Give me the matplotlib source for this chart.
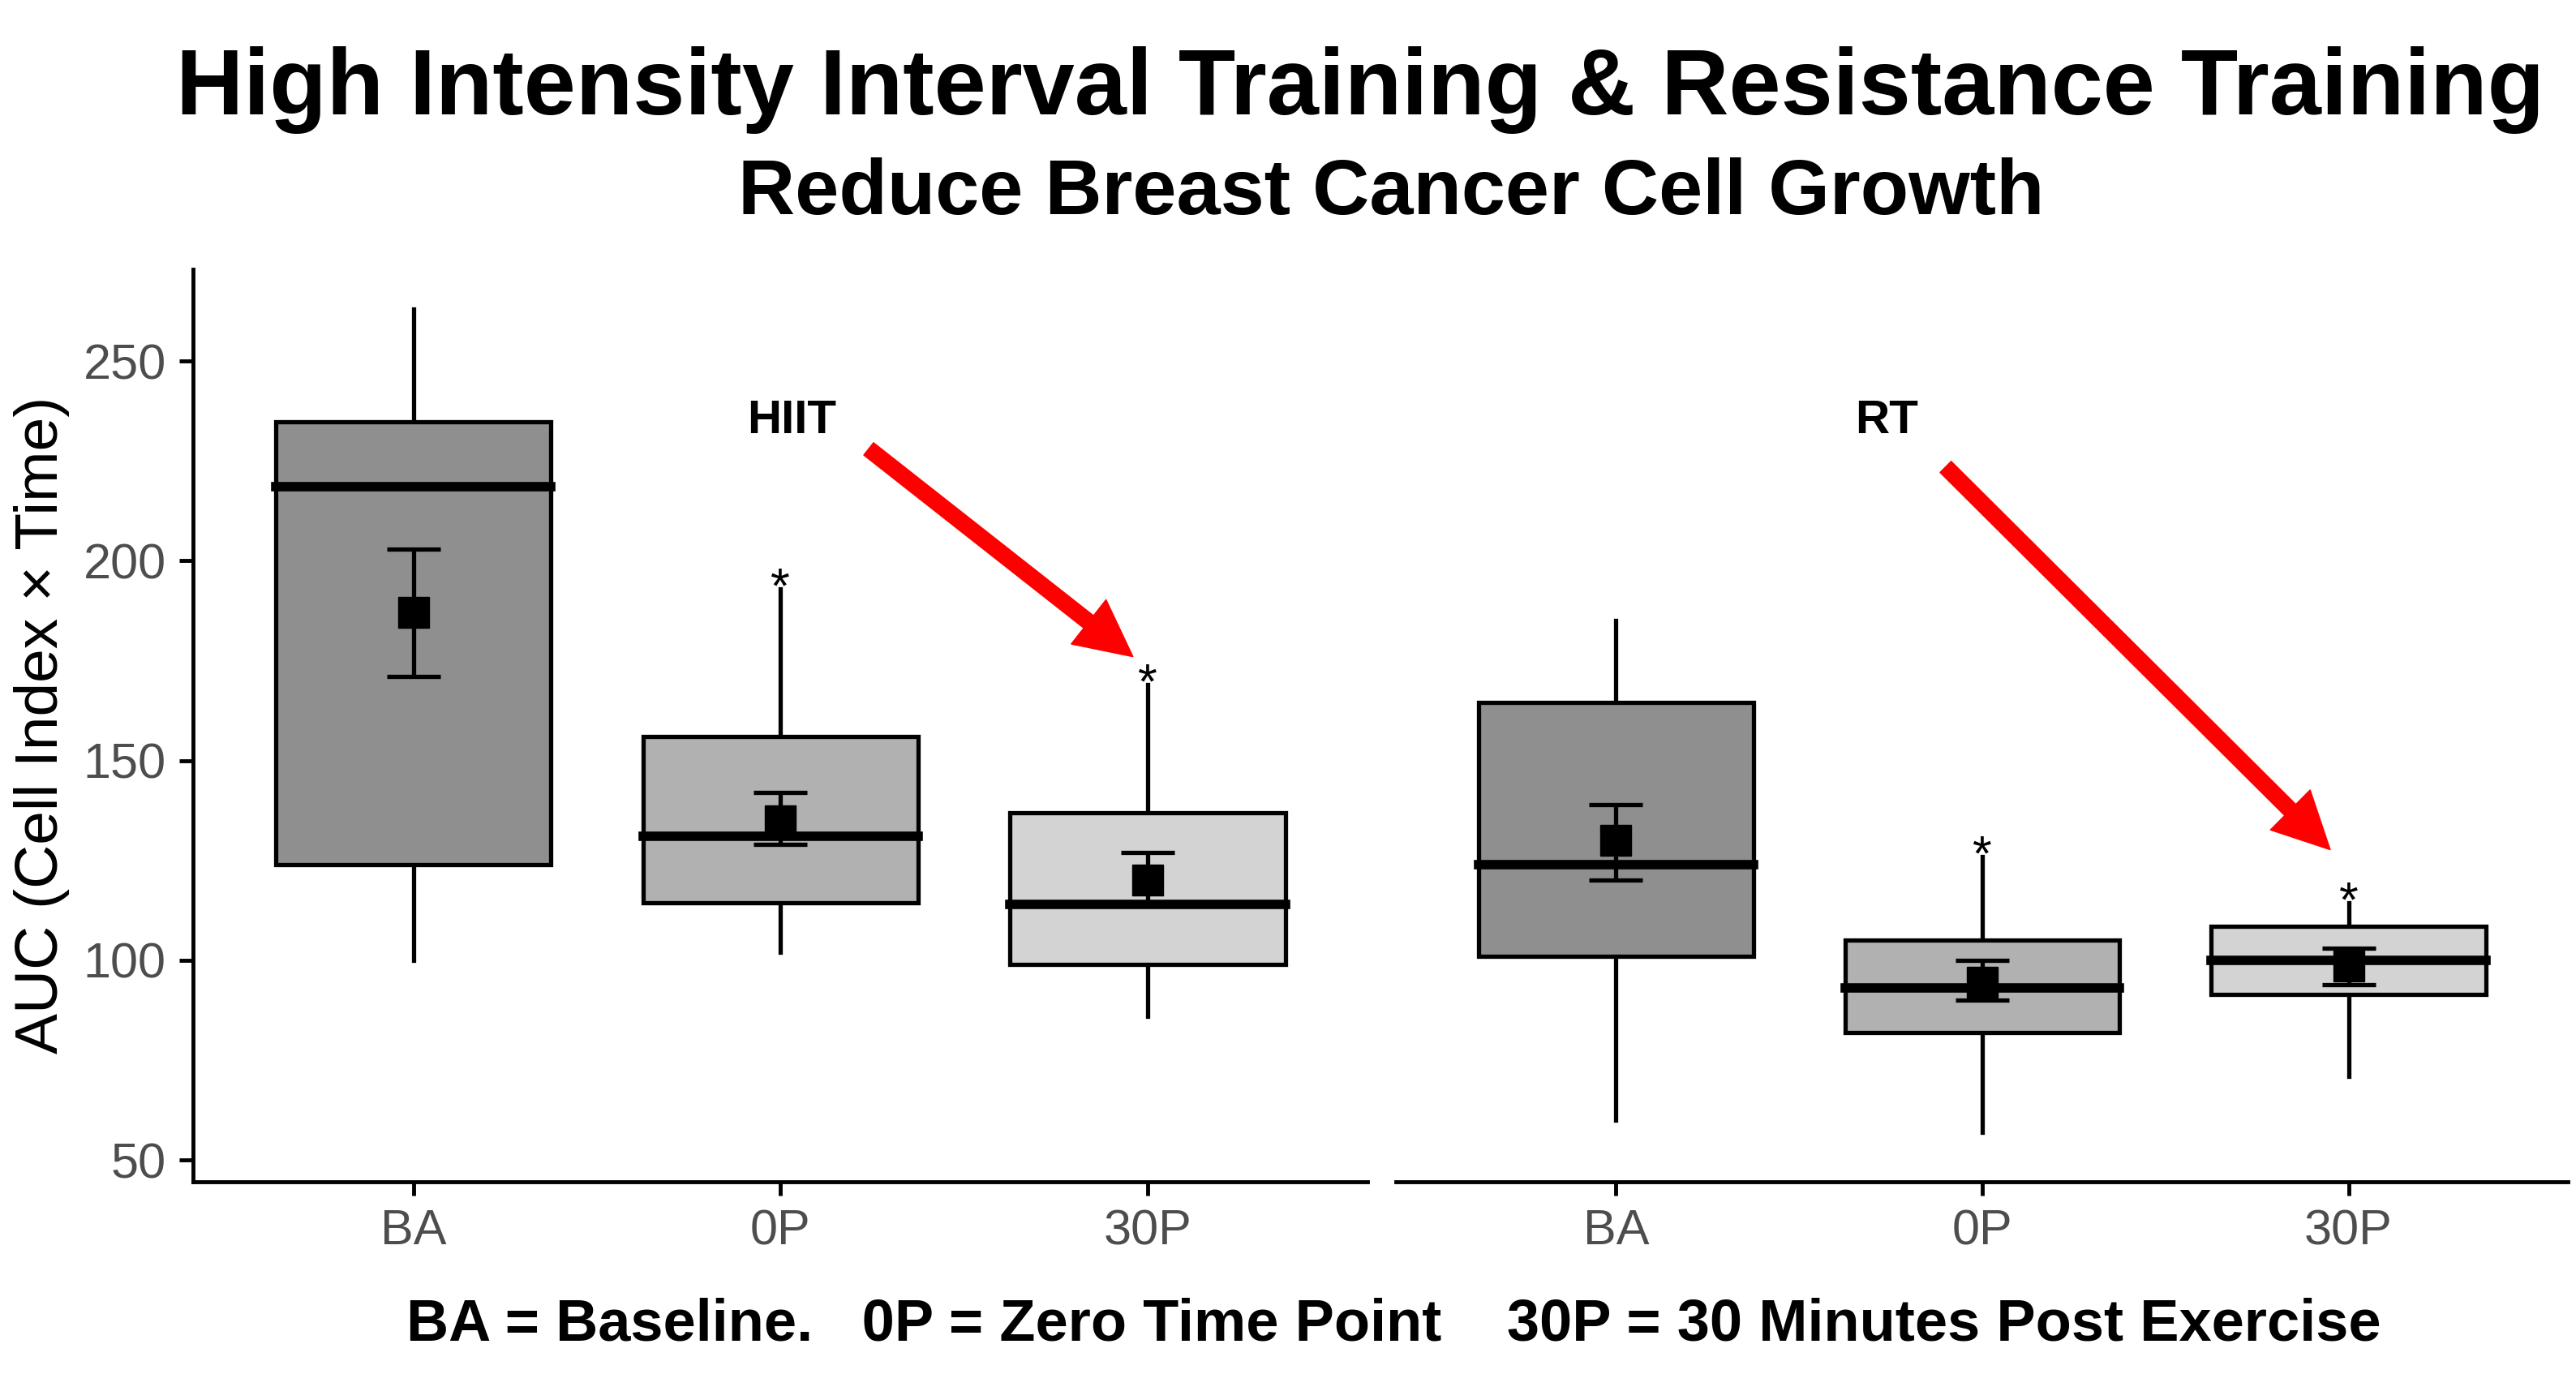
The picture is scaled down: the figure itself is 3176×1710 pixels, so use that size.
import matplotlib
matplotlib.use("Agg")
import matplotlib.pyplot as plt
from matplotlib.patches import Rectangle

plt.rcParams['font.family'] = ['Liberation Sans', 'DejaVu Sans']

cats = ["BA", "0P", "30P"]
colors = ["#8f8f8f", "#b1b1b1", "#d3d3d3"]
# per group: whisker low, q1, median, q3, whisker high
hiit_box = [(100, 124, 218.6, 234.7, 263), (102, 114.5, 131, 156, 193), (86, 99, 114, 137, 169)]
hiit_mean = [187, 135, 120]
hiit_err = [(171, 203), (129, 142), (114, 127)]
hiit_star = [False, True, True]
rt_box = [(60, 101, 124, 164.5, 185), (57, 82, 93, 105, 126), (71, 91.5, 100, 108.5, 114.5)]
rt_mean = [130, 94.5, 98.5]
rt_err = [(120, 139), (90, 100), (94, 103)]
rt_star = [False, True, True]

fig = plt.figure(figsize=(31.76, 17.1), dpi=100)
axL = fig.add_axes([0.075, 0.148, 0.456, 0.658])
axR = fig.add_axes([0.542, 0.148, 0.455, 0.658], sharey=axL)
lw = 3.8

def draw(ax, boxes, means, errs, stars, label, arrow_from, arrow_to, label_xy):
    for i, (lo, q1, med, q3, hi) in enumerate(boxes):
        x = i + 1
        ax.plot([x, x], [lo, q1], color="black", lw=lw, zorder=1)
        ax.plot([x, x], [q3, hi], color="black", lw=lw, zorder=1)
        ax.add_patch(Rectangle((x - 0.375, q1), 0.75, q3 - q1, facecolor=colors[i],
                               edgecolor="black", lw=lw, zorder=2))
        ax.plot([x - 0.375, x + 0.375], [med, med], color="black", lw=lw * 2.2, zorder=3)
        e0, e1 = errs[i]
        ax.errorbar(x, means[i], yerr=[[means[i] - e0], [e1 - means[i]]], fmt="s",
                    color="black", ms=28, capsize=24, elinewidth=lw, capthick=lw, zorder=4)
        if stars[i]:
            ax.text(x, hi - 6, "*", ha="center", va="bottom", fontsize=44)
    ax.text(label_xy[0], label_xy[1], label, ha="center", va="center",
            fontsize=42, fontweight="bold")
    ax.annotate("", xy=arrow_to, xytext=arrow_from,
                arrowprops=dict(facecolor="red", edgecolor="red", width=14,
                                headwidth=50, headlength=50))
    ax.set_xlim(0.4, 3.6)
    ax.set_ylim(44.6, 273)
    ax.set_xticks([1, 2, 3])
    ax.set_xticklabels(cats)
    for s in ["top", "right"]:
        ax.spines[s].set_visible(False)
    for s in ["left", "bottom"]:
        ax.spines[s].set_linewidth(3.5)
    ax.tick_params(labelsize=44, labelcolor="#4d4d4d", width=3.5, length=12, pad=12)

draw(axL, hiit_box, hiit_mean, hiit_err, hiit_star, "HIIT", (2.24, 228), (2.96, 176), (2.03, 235))
draw(axR, rt_box, rt_mean, rt_err, rt_star, "RT", (1.90, 223.5), (2.95, 127.7), (1.74, 235))
axL.set_yticks([50, 100, 150, 200, 250])
axR.spines["left"].set_visible(False)
axR.tick_params(axis="y", left=False, labelleft=False)
axL.set_ylabel("AUC (Cell Index × Time)", fontsize=54, labelpad=12)

fig.text(0.528, 0.935, "High Intensity Interval Training & Resistance Training",
         ha="center", va="center", fontsize=83, fontweight="bold")
fig.text(0.54, 0.86, "Reduce Breast Cancer Cell Growth",
         ha="center", va="center", fontsize=70, fontweight="bold")
fig.text(0.541, 0.045, "BA = Baseline.   0P = Zero Time Point    30P = 30 Minutes Post Exercise",
         ha="center", va="center", fontsize=52, fontweight="bold")
fig.savefig("out.png", dpi=100)
